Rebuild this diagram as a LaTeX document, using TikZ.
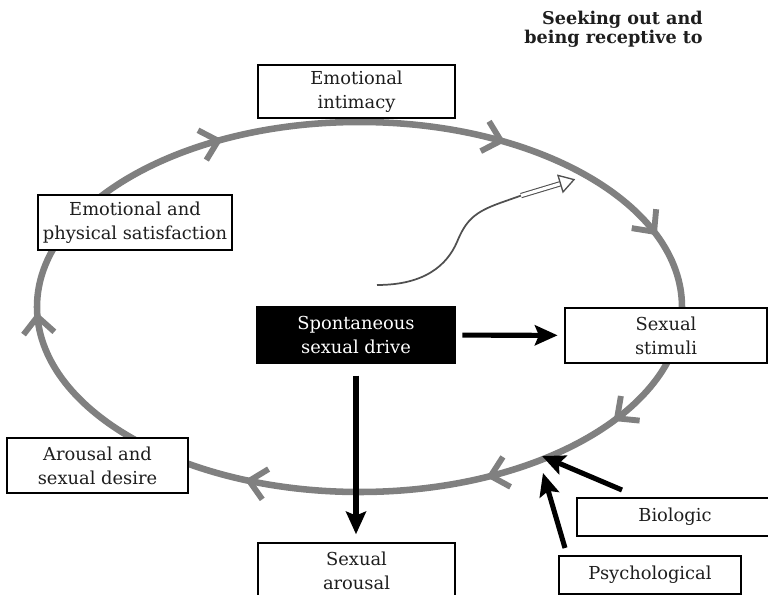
\documentclass[tikz,border=0pt]{standalone}
\usepackage{fontspec}
\setmainfont{DejaVu Serif}
\usetikzlibrary{arrows.meta,calc}
\definecolor{ringgray}{RGB}{128,128,128}
\definecolor{wiregray}{RGB}{80,80,80}
\definecolor{inkgray}{RGB}{30,30,30}
\begin{document}
\begin{tikzpicture}[x=0.75pt,y=-0.75pt,
  label box/.style={draw=black, line width=1.1pt, fill=white, align=center,
    inner sep=0pt, font=\fontsize{13.4}{18}\selectfont, text=inkgray},
  ring/.style={draw=ringgray, line width=4.9pt},
  chevron/.style={draw=ringgray, line width=4.4pt, line cap=butt, line join=miter},
  push/.style={draw=black, line width=3.8pt,
    -{Stealth[length=17pt,width=15pt,inset=3pt]}},
  wire/.style={draw=wiregray, line width=1.3pt},
]
\useasboundingbox (0,0) rectangle (768,595);
\clip (0,0) rectangle (768,595);
\fill[white] (0,0) rectangle (768,595);

% the cycle
\draw[ring] (359.5,307) ellipse [x radius=241.875pt, y radius=138.75pt];
\foreach \t in {116,64,24,-37,-66,-110,183} {
  \pgfmathsetmacro\px{359.5+322.5*cos(\t)}
  \pgfmathsetmacro\py{307-185*sin(\t)}
  \pgfmathsetmacro\ang{atan2(-185*cos(\t),322.5*sin(\t))}
  \draw[chevron] (\px,\py) ++(\ang+180-43:17pt) -- (\px,\py) -- ++(\ang+180+43:17pt);
}

% the wavy arrow with a hollow head
\coordinate (wStart) at (377,285);
\coordinate (wKink) at (521,195.6);
\coordinate (wBase) at (560.5,183.7);
\coordinate (wApex) at (574,179.6);
\draw[wire] (wStart) .. controls (425,285) and (447,265) .. (457,242)
  .. controls (466,220) and (475,212) .. (500,203) -- (wKink);
\draw[draw=wiregray, line width=0.8pt, double=white, double distance=2.4pt] (wKink) -- (wBase);
\draw[draw=wiregray, line width=1pt, fill=white, line join=miter]
  ($(wBase)!6.5pt!90:(wApex)$) -- (wApex) -- ($(wBase)!6.5pt!-90:(wApex)$) -- cycle;

% boxes
\node[label box, minimum width=147.75pt, minimum height=39.75pt] (intimacy) at (356.5,91.5) {Emotional\\intimacy};
\node[label box, minimum width=145.5pt, minimum height=41.25pt] (satisfaction) at (135,222.5) {Emotional and\\physical satisfaction};
\node[label box, minimum width=151.5pt, minimum height=41.25pt] (stimuli) at (666,335.5) {Sexual\\stimuli};
\node[label box, fill=black, text=white, minimum width=148.5pt, minimum height=42pt] (drive) at (356,335) {Spontaneous\\sexual drive};
\node[label box, minimum width=135.75pt, minimum height=41.25pt] (desire) at (97.5,465.5) {Arousal and\\sexual desire};
\node[label box, minimum width=147.75pt, minimum height=41.25pt] (arousal) at (356.5,570.5) {Sexual\\arousal};
\node[label box, minimum width=147pt, minimum height=28.5pt] (biologic) at (675,517) {Biologic};
\node[label box, minimum width=136.5pt, minimum height=28.5pt] (psych) at (650,575) {Psychological};

\node[anchor=north east, align=right, inner sep=0pt, text=inkgray,
  font=\bfseries\fontsize{13.2}{14.2}\selectfont] (title) at (703,11) {Seeking out and\\being receptive to};

% black arrows
\draw[push, shorten <=5pt, shorten >=5pt] (drive) -- (stimuli);
\draw[push, shorten <=9pt, shorten >=6pt] (drive.south) -- (drive.south |- arousal.north);
\coordinate (bioTail) at (622,490);
\coordinate (bioTip) at (542,456);
\coordinate (psyTail) at (565,548);
\coordinate (psyTip) at (543,473);
\draw[push] (bioTail) -- (bioTip);
\draw[push] (psyTail) -- (psyTip);
\end{tikzpicture}
\end{document}
